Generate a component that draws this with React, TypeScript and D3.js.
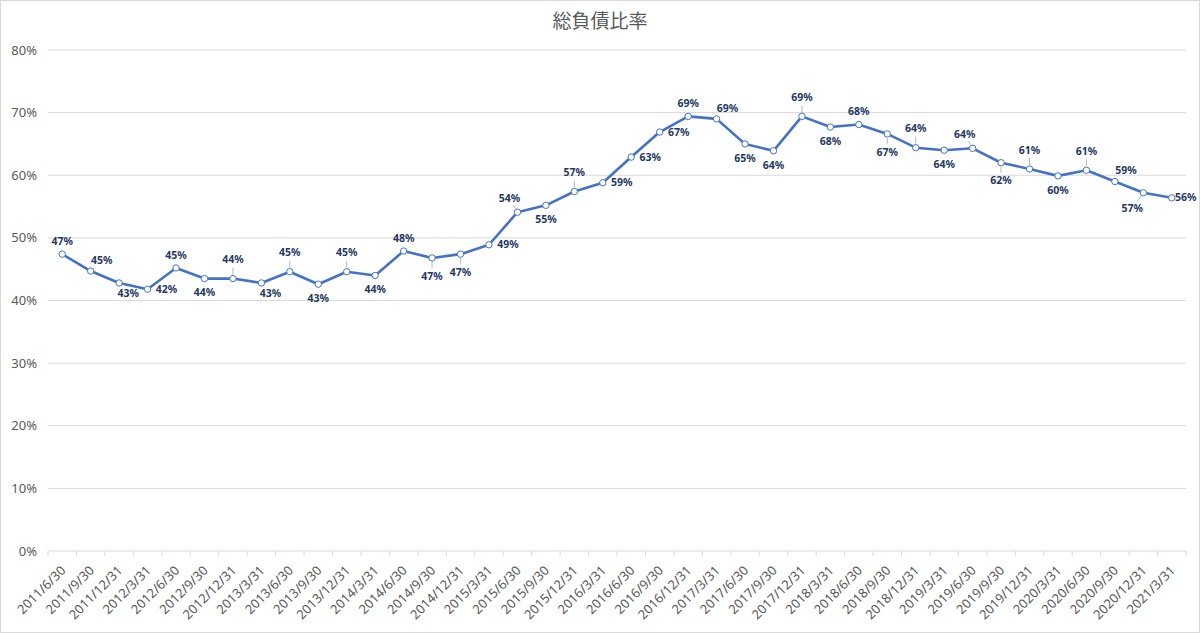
import React from "react";
import * as d3 from "d3";

const categories = [
  "2011/6/30","2011/9/30","2011/12/31","2012/3/31","2012/6/30","2012/9/30","2012/12/31","2013/3/31",
  "2013/6/30","2013/9/30","2013/12/31","2014/3/31","2014/6/30","2014/9/30","2014/12/31","2015/3/31",
  "2015/6/30","2015/9/30","2015/12/31","2016/3/31","2016/6/30","2016/9/30","2016/12/31","2017/3/31",
  "2017/6/30","2017/9/30","2017/12/31","2018/3/31","2018/6/30","2018/9/30","2018/12/31","2019/3/31",
  "2019/6/30","2019/9/30","2019/12/31","2020/3/31","2020/6/30","2020/9/30","2020/12/31","2021/3/31",
];

const ratios = [
  0.474, 0.447, 0.428, 0.418, 0.452, 0.435, 0.435, 0.428,
  0.446, 0.426, 0.446, 0.440, 0.479, 0.468, 0.474, 0.489,
  0.541, 0.552, 0.574, 0.588, 0.629, 0.669, 0.694, 0.690,
  0.650, 0.639, 0.694, 0.677, 0.681, 0.666, 0.644, 0.640,
  0.643, 0.620, 0.610, 0.599, 0.608, 0.590, 0.572, 0.564,
];

// label placement codes (style)
const labelPlacement = [
  "t","tr","br","r","t","b","T","br",
  "T","b","T","b","t","B","B","r",
  "tl","b","T","r","r","r","t","tr",
  "b","b","T","b","t","B","T","b",
  "tl","B","T","b","T","tr","bl","R",
];

const yTicks = [0, 0.1, 0.2, 0.3, 0.4, 0.5, 0.6, 0.7, 0.8];

const title = "総負債比率";

const W = 1200;
const H = 633;
const left = 48;
const right = 1186;
const top = 50;
const bottom = 551;

const offsets: Record<string, [number, number]> = {
  t: [0, -13],
  T: [0, -19],
  b: [0, 14],
  B: [0, 18],
  r: [19, 0],
  R: [14, 0],
  tr: [11, -11],
  br: [9, 10],
  tl: [-8, -14],
  bl: [-11, 16],
};

export default function App() {
  const x = d3.scaleBand<string>().domain(categories).range([left, right]).padding(0);
  const y = d3.scaleLinear().domain([0, 0.8]).range([bottom, top]);
  const cx = (i: number) => (x(categories[i]) as number) + x.bandwidth() / 2;
  const line = d3
    .line<number>()
    .x((_, i) => cx(i))
    .y((d) => y(d));
  const pct = d3.format(".0%");
  const gray = "#595959";
  const blue = "#4472C4";
  const labelColor = "#1F3864";
  const boundaries = categories.map((c) => x(c) as number).concat([right]);

  return (
    <svg
      width={W}
      height={H}
      style={{ position: "absolute", left: 0, top: 0, background: "#fff" }}
      fontFamily="'Noto Sans', 'Liberation Sans', sans-serif"
    >
      <rect x={0.5} y={0.5} width={W - 1} height={H - 1} fill="#fff" stroke="#d9d9d9" />
      <text
        x={W / 2}
        y={28}
        textAnchor="middle"
        fontSize={19}
        fill={gray}
        fontFamily="'Noto Sans CJK JP', sans-serif"
      >
        {title}
      </text>
      {yTicks.map((t) => (
        <g key={t}>
          {t > 0 && (
            <line x1={left} x2={right} y1={y(t)} y2={y(t)} stroke="#d9d9d9" strokeWidth={1} />
          )}
          <text x={37} y={y(t)} dy="0.35em" textAnchor="end" fontSize={13} fill={gray}>
            {pct(t)}
          </text>
        </g>
      ))}
      <line x1={left} x2={right} y1={bottom} y2={bottom} stroke="#d9d9d9" strokeWidth={1} />
      {boundaries.map((b, i) => (
        <line key={i} x1={b} x2={b} y1={bottom} y2={bottom + 5} stroke="#d9d9d9" strokeWidth={1} />
      ))}
      {categories.map((c, i) => (
        <text
          key={c}
          transform={`translate(${cx(i) + 1},${bottom + 17}) rotate(-45)`}
          textAnchor="end"
          dy="0.35em"
          fontSize={13}
          fill={gray}
        >
          {c}
        </text>
      ))}
      <path d={line(ratios) || ""} fill="none" stroke={blue} strokeWidth={2.6} strokeLinejoin="round" />
      {ratios.map((v, i) => {
        const code = labelPlacement[i];
        const [dx, dy] = offsets[code];
        const px = cx(i);
        const py = y(v);
        const lx = px + dx;
        const ly = py + dy;
        const dist = Math.hypot(dx, dy);
        const leader = ["T", "B", "tl", "bl"].includes(code);
        const ux = dx / dist;
        const uy = dy / dist;
        return (
          <g key={i}>
            {leader && (
              <line
                x1={px + ux * 4}
                y1={py + uy * 4}
                x2={px + ux * (dist - 8)}
                y2={py + uy * (dist - 8)}
                stroke="#a6a6a6"
                strokeWidth={0.8}
              />
            )}
            <circle cx={px} cy={py} r={3.2} fill="#fff" stroke={blue} strokeWidth={1} />
            <text
              x={lx}
              y={ly}
              dy="0.35em"
              textAnchor="middle"
              fontSize={10.5}
              fontWeight="bold"
              fill={labelColor}
            >
              {pct(v)}
            </text>
          </g>
        );
      })}
    </svg>
  );
}
